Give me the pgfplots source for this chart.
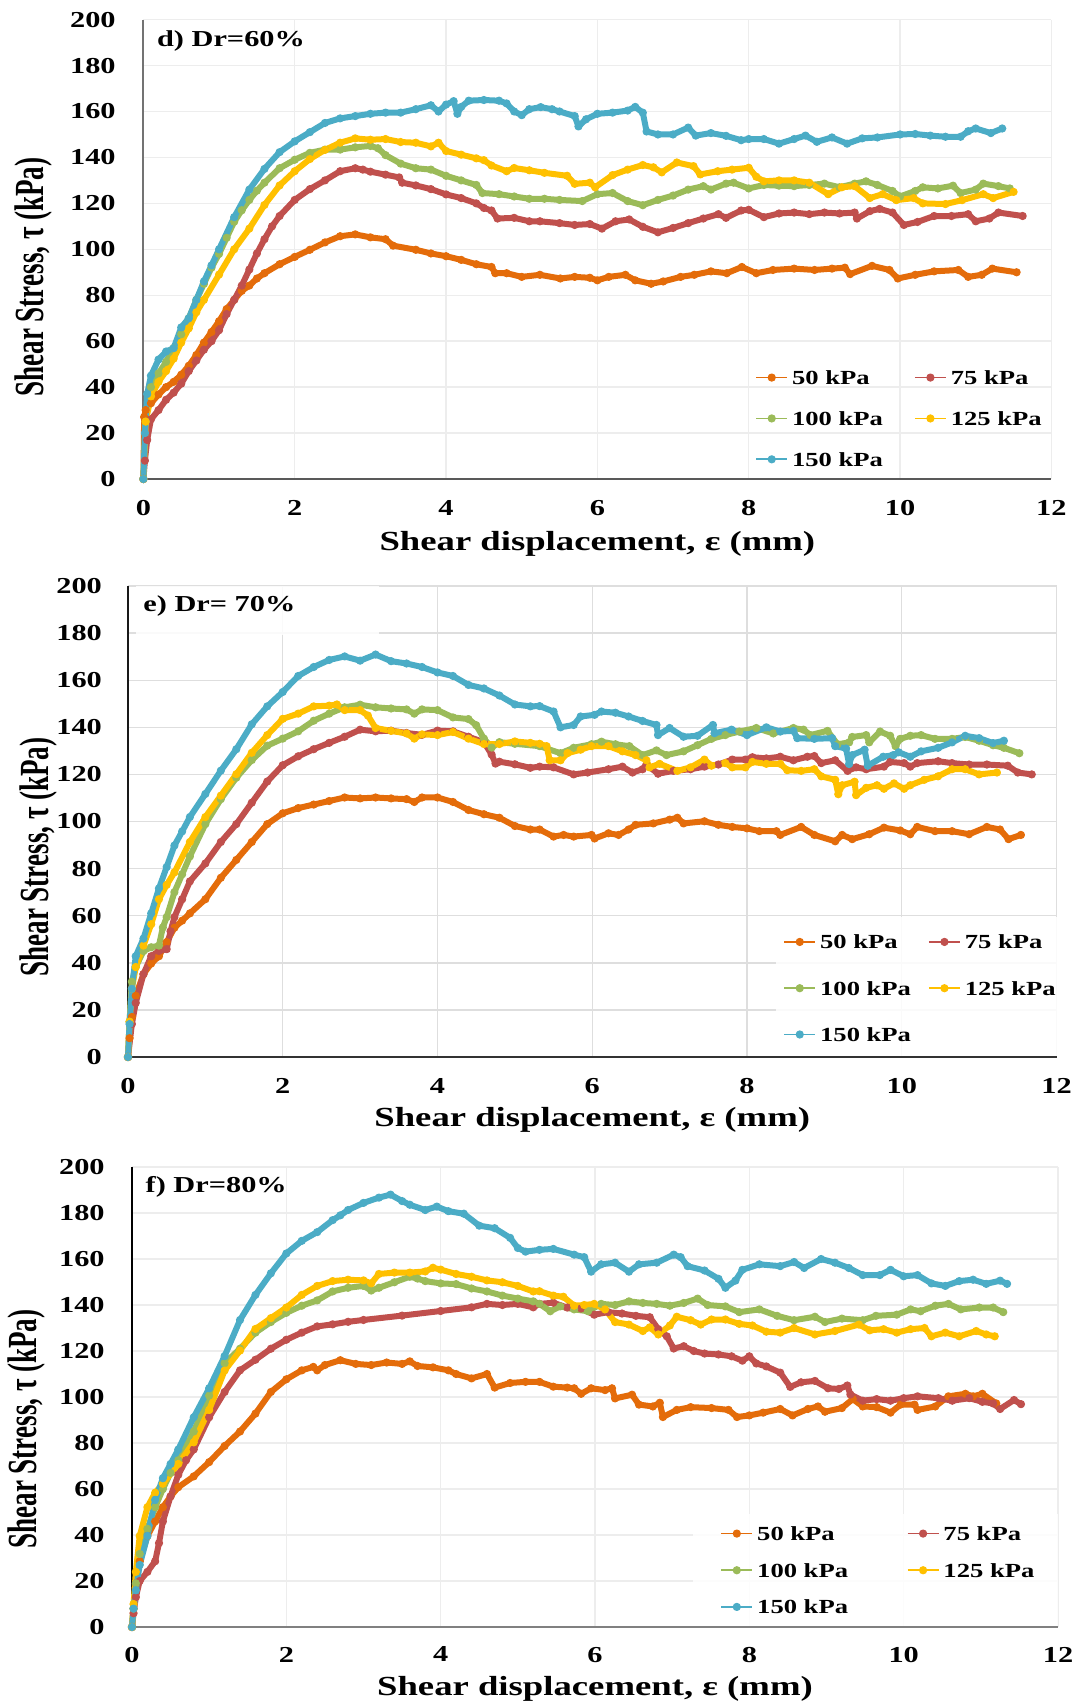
\documentclass[border=0pt]{standalone}
\usepackage{fontspec}
\setmainfont{Liberation Serif}[FakeStretch=1.33]
\newfontfamily\ylabfont{Liberation Serif}[FakeStretch=0.654]
\usepackage{pgfplots}
\pgfplotsset{compat=1.18}
\definecolor{c50}{RGB}{228,108,10}
\definecolor{c75}{RGB}{192,80,77}
\definecolor{c100}{RGB}{155,187,89}
\definecolor{c125}{RGB}{255,192,0}
\definecolor{c150}{RGB}{75,172,198}
\pgfplotsset{
 common/.style={
  scale only axis, anchor=south west,
  xmin=0, xmax=12, ymin=0, ymax=200,
  xtick={0,2,...,12}, ytick={0,20,...,200},
  axis lines=left, axis line style={-},
  grid=major,
  major tick length=0pt, tick style={draw=none},
  /pgf/number format/assume math mode=true,
  ticklabel style={font=\fontsize{11.4}{12}\selectfont\bfseries},
  xticklabel style={anchor=north, inner sep=0pt},
  yticklabel style={anchor=east, inner sep=0pt},
  xlabel style={at={(rel axis cs:0.5,0)}, anchor=north, inner sep=0pt, font=\fontsize{13.8}{15}\selectfont\bfseries},
  xlabel={Shear displacement, ε (mm)},
  clip=false,
  legend columns=2,
  legend cell align=left,
  legend style={draw=none, fill=none, inner sep=0pt, anchor=north west,
    nodes={inner sep=0pt, text depth=0pt},
    font=\fontsize{10}{12}\selectfont\bfseries,
    /tikz/every odd column/.append style={column sep=2pt}},
  legend image code/.code={\draw[mark repeat=2, mark phase=2, ##1, line width=0.9pt, mark size=1.8pt] plot coordinates {(0pt,0pt) (7.75pt,0pt) (15.5pt,0pt)};},
 },
 curve/.style={line width=3pt, line join=round, mark=*, mark size=1.8pt, mark options={solid, line width=0.5pt}},
}
\begin{document}
\begin{tikzpicture}
\path[use as bounding box] (0,0) rectangle (539pt,-852pt);
% ---------------- d) Dr=60% ----------------
\begin{axis}[common, at={(71.7pt,-239.5pt)}, width=454pt, height=229.7pt,
  grid style={draw=black!7, line width=0.7pt},
  x axis line style={draw=black!65, line width=1pt},
  y axis line style={draw=black!55, line width=1pt},
  xticklabel style={yshift=-10.5pt}, yticklabel style={xshift=-13.7pt},
  xlabel style={yshift=-26pt},
  legend style={at={(rel axis cs:0.6735,0.2368)}, row sep=13.5pt,
    /tikz/every even column/.append style={column sep=15.5pt}}]
\addplot[curve, color=c50] coordinates {(0,0) (0.01,27) (0.03,30) (0.1,33) (0.2,36.8) (0.3,40) (0.4,42.3) (0.5,45.4) (0.6,49.3) (0.7,54) (0.8,59.4) (0.9,64) (1.0,68.7) (1.1,74) (1.2,78) (1.3,81.9) (1.4,84.2) (1.5,87.3) (1.6,89.6) (1.8,93.5) (2.0,96.7) (2.2,99.8) (2.4,103) (2.6,105.7) (2.8,106.5) (3.0,105.2) (3.2,104.4) (3.3,101.6) (3.6,99.8) (3.8,98.2) (4.0,97) (4.2,95.4) (4.4,93.5) (4.6,92.3) (4.65,89.6) (4.8,89.6) (5.0,88) (5.24,88.9) (5.51,87.3) (5.7,88) (5.9,87.6) (6.0,86.5) (6.15,88) (6.37,88.9) (6.5,86.5) (6.71,85) (6.87,86) (7.1,88) (7.28,88.9) (7.5,90.4) (7.71,89.6) (7.91,92.3) (8.1,89.6) (8.32,91) (8.6,91.6) (8.87,91) (9.1,91.6) (9.27,92) (9.34,89.2) (9.63,92.8) (9.86,91) (9.97,87.3) (10.2,88.9) (10.45,90.4) (10.77,91) (10.9,88) (11.08,88.9) (11.22,91.6) (11.54,90)};
\addlegendentry{50 kPa}
\addplot[curve, color=c75] coordinates {(0,0) (0.02,8) (0.05,17) (0.1,26) (0.2,30) (0.3,34.5) (0.4,37.6) (0.5,41.5) (0.6,47) (0.7,51.6) (0.8,56.3) (0.9,60) (1.0,64.8) (1.1,71.8) (1.2,78) (1.3,84.2) (1.4,91.2) (1.5,98.2) (1.6,104.4) (1.7,110) (1.8,114.5) (2.0,121.5) (2.2,126.2) (2.4,130) (2.6,134) (2.8,135.3) (2.9,134.7) (3.0,133.8) (3.2,132.5) (3.38,131.3) (3.42,129) (3.6,127.8) (3.8,126.2) (4.0,123.9) (4.2,122.3) (4.4,120) (4.5,118) (4.6,116.9) (4.68,113.4) (4.9,113.7) (5.1,112.2) (5.24,112.2) (5.5,111.4) (5.7,110.6) (5.9,111) (6.06,109) (6.24,112.2) (6.42,113) (6.6,109.8) (6.8,107.4) (7.0,109.3) (7.2,111.4) (7.4,113.4) (7.6,115.3) (7.7,113.7) (7.9,116.9) (8.0,117.2) (8.2,114) (8.4,115.6) (8.6,116) (8.8,115.3) (9.0,116) (9.2,115.6) (9.4,116) (9.43,113.4) (9.6,116.6) (9.73,117.6) (9.9,116) (10.05,110.6) (10.23,111.9) (10.45,114.5) (10.68,114.5) (10.9,115.3) (11.0,112.2) (11.18,113.4) (11.3,116) (11.62,114.5)};
\addlegendentry{75 kPa}
\addplot[curve, color=c100] coordinates {(0,0) (0.03,25) (0.1,40) (0.2,46) (0.3,51) (0.4,57) (0.5,63) (0.6,70) (0.7,78) (0.8,85) (0.9,92) (1.0,98) (1.1,105) (1.2,112) (1.3,117) (1.4,121.5) (1.5,125.5) (1.6,129) (1.8,135.3) (2.0,139) (2.2,142) (2.4,143.4) (2.6,143.4) (2.8,144.4) (3.0,145) (3.1,144) (3.2,141) (3.4,137.3) (3.6,135.3) (3.8,134.7) (4.0,132) (4.2,130) (4.4,128) (4.48,124.5) (4.7,124) (4.9,123) (5.1,122) (5.3,122) (5.5,121.5) (5.8,121) (6.0,124) (6.2,124.5) (6.4,121) (6.6,119.2) (6.8,121.5) (7.0,123.4) (7.2,126) (7.4,127.5) (7.5,126) (7.7,128.6) (7.8,129) (8.0,126.5) (8.2,128) (8.4,127.7) (8.6,127.5) (8.8,128) (9.0,128.6) (9.2,127) (9.4,128.6) (9.55,129.6) (9.7,128) (9.9,125.4) (10.0,123) (10.2,125.4) (10.3,127) (10.5,126.5) (10.7,127.7) (10.8,124.5) (11.0,126) (11.1,128.6) (11.3,127.5) (11.45,126.5)};
\addlegendentry{100 kPa}
\addplot[curve, color=c125] coordinates {(0,0) (0.03,25) (0.1,36) (0.2,42.3) (0.3,47) (0.4,52.4) (0.5,59.4) (0.6,65.6) (0.7,72.6) (0.8,78) (1.0,89) (1.2,100) (1.4,109) (1.6,119.3) (1.8,127.8) (2.0,134) (2.2,139.3) (2.4,143.3) (2.6,146.4) (2.8,148.3) (3.0,147.7) (3.2,148) (3.4,146.7) (3.6,146.4) (3.8,144.8) (3.9,146.4) (4.0,142.8) (4.2,141.2) (4.4,139.6) (4.5,138.8) (4.6,136.5) (4.8,134) (4.9,135.4) (5.1,134.4) (5.3,133.3) (5.6,132) (5.7,128.5) (5.9,129) (5.97,127) (6.2,132.3) (6.4,134.7) (6.6,136.7) (6.74,135.7) (6.85,133.5) (7.05,137.8) (7.27,136.2) (7.36,132.6) (7.59,134) (7.78,134.7) (8.0,135.5) (8.1,131.6) (8.2,129.6) (8.4,130) (8.6,130) (8.8,129) (9.05,124) (9.23,127) (9.4,127.5) (9.6,122.3) (9.77,124) (9.95,121.4) (10.18,122.3) (10.3,120) (10.6,119.7) (10.82,121.4) (11.1,124) (11.23,122.3) (11.5,125)};
\addlegendentry{125 kPa}
\addplot[curve, color=c150] coordinates {(0,0) (0.02,20) (0.05,37) (0.1,45) (0.2,52) (0.3,55.5) (0.4,57) (0.5,66) (0.6,70) (0.7,78) (0.8,86) (0.9,93) (1.0,100) (1.2,114) (1.4,126) (1.6,135) (1.8,142.3) (2.0,147) (2.2,151) (2.4,155) (2.6,157) (2.8,158) (3.0,159) (3.2,159.5) (3.4,159.5) (3.6,161) (3.8,162.7) (3.9,160) (4.0,163) (4.1,164.5) (4.15,159) (4.2,162) (4.3,164.7) (4.5,165) (4.7,164.7) (4.8,163.5) (4.9,160) (5.0,158.4) (5.1,161) (5.25,161.9) (5.4,161) (5.5,160) (5.7,158) (5.75,153.5) (5.85,156.6) (6.0,159) (6.2,159.5) (6.4,160.4) (6.5,162) (6.6,159.5) (6.65,151.3) (6.8,150) (7.0,150) (7.2,153) (7.3,149.5) (7.5,150.6) (7.7,149.4) (7.9,147.5) (8.0,148) (8.2,148) (8.4,146) (8.6,148) (8.75,149.5) (8.9,146.8) (9.1,148.7) (9.3,146) (9.5,148.3) (9.7,148.7) (10.0,150) (10.2,150.2) (10.4,149.5) (10.6,149) (10.8,149) (10.9,151.4) (11.0,152.6) (11.2,150.6) (11.35,152.6)};
\addlegendentry{150 kPa}
\node[anchor=west, inner sep=0pt, xshift=6.65pt, yshift=-10.5pt, font=\fontsize{11.4}{12}\selectfont\bfseries] at (rel axis cs:0,1) {d) Dr=60\%};
\end{axis}
% ---------------- e) Dr=70% ----------------
\begin{axis}[common, at={(64pt,-528.5pt)}, width=464.25pt, height=235.5pt,
  grid style={draw=black!13, line width=0.7pt},
  x axis line style={draw=black!80, line width=1pt},
  y axis line style={draw=black!90, line width=1pt},
  xticklabel style={yshift=-10.5pt}, yticklabel style={xshift=-12.85pt},
  xlabel style={yshift=-25pt},
  legend style={at={(rel axis cs:0.7054,0.2599)}, row sep=16.2pt,
    /tikz/every even column/.append style={column sep=8.5pt}}]
\fill[white, opacity=0.85] (axis cs:8.37,0.6) rectangle (axis cs:12,59.4);
\fill[white, opacity=0.85] (axis cs:0.1,200) rectangle (axis cs:3.25,179);
\addplot[curve, color=c50] coordinates {(0,0) (0.02,8) (0.05,17) (0.1,26) (0.2,35.2) (0.3,39.7) (0.4,42.8) (0.5,48.8) (0.6,54.9) (0.7,57.9) (0.8,61) (1.0,67) (1.2,76.1) (1.4,83.7) (1.6,91.3) (1.8,98.9) (2.0,103.5) (2.2,105.7) (2.4,107.2) (2.6,108.7) (2.8,110.2) (3.0,109.8) (3.2,110.2) (3.4,109.8) (3.6,109.5) (3.7,108.3) (3.8,110.2) (4.0,110.2) (4.2,108.3) (4.4,104.9) (4.6,103.1) (4.8,101.6) (5.0,98.1) (5.2,96.6) (5.32,96.6) (5.5,93.6) (5.63,94.3) (5.76,93.6) (5.99,94.3) (6.03,92.8) (6.21,95) (6.34,94.3) (6.47,96.6) (6.56,98.6) (6.79,99.2) (7.0,100.8) (7.1,101.6) (7.18,99.2) (7.45,100.1) (7.63,98.6) (7.81,97.7) (8.0,97.1) (8.16,95.9) (8.38,95.9) (8.43,94.3) (8.7,97.7) (8.87,94.3) (9.14,91.6) (9.23,94.3) (9.36,92.5) (9.58,94.6) (9.77,97.4) (9.98,96.2) (10.11,94.6) (10.2,97.7) (10.43,95.9) (10.65,95.9) (10.87,94.6) (11.1,97.7) (11.27,96.6) (11.38,92.5) (11.54,94.3)};
\addlegendentry{50 kPa}
\addplot[curve, color=c75] coordinates {(0,0) (0.05,14) (0.1,23) (0.2,35.2) (0.3,42.8) (0.4,45) (0.5,45.8) (0.55,53.4) (0.6,59.4) (0.7,67) (0.8,74.6) (1.0,82.2) (1.2,91.3) (1.4,98.9) (1.6,108) (1.8,117) (2.0,123.9) (2.2,127.7) (2.4,130.7) (2.6,133.4) (2.8,136) (3.0,139) (3.2,138.3) (3.4,138.6) (3.6,137.6) (3.8,136.8) (4.0,138.6) (4.2,138.3) (4.4,136) (4.6,133.7) (4.7,128.4) (4.75,124.6) (4.8,125.4) (5.0,124.3) (5.2,122.8) (5.32,123.3) (5.5,123) (5.76,120) (5.94,120.8) (6.21,122.2) (6.39,123.3) (6.52,120.8) (6.65,122.2) (6.7,124.2) (6.85,120.3) (7.05,121.5) (7.27,122.2) (7.45,123.3) (7.63,124.2) (7.81,126.3) (7.98,126.3) (8.07,127.3) (8.25,126.8) (8.43,127.5) (8.6,126) (8.78,127.5) (8.87,127.8) (8.96,124.8) (9.14,126) (9.3,121.5) (9.41,123) (9.54,122.2) (9.77,123.3) (9.85,125.3) (10.03,124.8) (10.11,123.3) (10.2,124.8) (10.47,125.6) (10.65,124.8) (10.87,124.2) (11.1,124.2) (11.37,123.7) (11.5,120.8) (11.68,120)};
\addlegendentry{75 kPa}
\addplot[curve, color=c100] coordinates {(0,0) (0.02,15) (0.05,32) (0.1,38.2) (0.2,45) (0.3,46.6) (0.4,47.3) (0.45,55) (0.5,59.4) (0.6,70) (0.7,77.6) (0.8,85.2) (1.0,98.9) (1.2,109.5) (1.4,118.6) (1.6,126.1) (1.8,132.2) (2.0,135.2) (2.2,138.3) (2.4,142.8) (2.6,145.8) (2.8,148.5) (3.0,149.6) (3.2,148.5) (3.4,148) (3.6,147.6) (3.7,145.8) (3.8,147.6) (4.0,147.3) (4.2,144.2) (4.4,143.5) (4.5,140.9) (4.6,135.2) (4.7,131.4) (4.8,133.7) (5.0,133) (5.32,132) (5.59,129) (5.76,131.3) (5.99,132.8) (6.12,133.9) (6.3,132.8) (6.48,132) (6.65,128.2) (6.83,130.2) (6.96,128.2) (7.18,129.8) (7.36,132.4) (7.54,135.1) (7.72,136.7) (7.9,138.2) (8.12,139.7) (8.34,137.4) (8.6,139.7) (8.73,139) (8.82,136.7) (9.04,138.5) (9.17,132.8) (9.32,133.6) (9.36,135.9) (9.54,136.7) (9.58,133.6) (9.72,138.2) (9.85,136.4) (9.92,132) (9.98,135.1) (10.11,136.4) (10.25,136.7) (10.43,135.1) (10.65,135.1) (10.82,135.9) (11.0,134.3) (11.18,132.4) (11.32,131.3) (11.52,129)};
\addlegendentry{100 kPa}
\addplot[curve, color=c125] coordinates {(0,0) (0.02,15) (0.05,29) (0.1,38.2) (0.2,47.3) (0.3,56.4) (0.4,67) (0.5,73.1) (0.6,78.4) (0.8,91.3) (1.0,101.9) (1.2,111) (1.4,120.1) (1.6,129.2) (1.8,136.7) (2.0,143.6) (2.2,145.8) (2.4,148.9) (2.6,149.2) (2.7,149.7) (2.8,147.3) (3.0,147.3) (3.1,145) (3.2,139.7) (3.4,138.5) (3.6,137.4) (3.7,135.2) (3.8,137) (4.0,136.7) (4.2,138) (4.4,135.2) (4.6,132.9) (4.8,132.9) (5.0,134) (5.2,133.4) (5.32,133) (5.41,132) (5.45,126) (5.59,126) (5.68,129) (5.85,130.5) (5.99,132) (6.21,132) (6.39,129.8) (6.56,128.2) (6.7,126) (6.74,123) (6.87,124.5) (7.1,121.5) (7.27,123) (7.45,126.3) (7.54,123.7) (7.72,124.8) (7.81,123) (7.98,123) (8.07,125.3) (8.25,124.5) (8.43,124.5) (8.52,121.8) (8.7,121.5) (8.87,122.2) (8.96,119.2) (9.14,117.7) (9.18,111.6) (9.23,115.4) (9.39,116.9) (9.41,111.2) (9.54,114.3) (9.68,115.4) (9.77,113.9) (9.9,116.2) (10.03,113.9) (10.11,115.4) (10.29,117.7) (10.47,119.2) (10.65,122.2) (10.82,122.2) (11.0,120) (11.23,120.8)};
\addlegendentry{125 kPa}
\addplot[curve, color=c150] coordinates {(0,0) (0.02,14) (0.05,29) (0.1,42.8) (0.2,50.3) (0.3,61) (0.4,71.6) (0.5,80.7) (0.6,89.8) (0.7,95.8) (0.8,101.9) (1.0,111.7) (1.2,121.6) (1.4,130.7) (1.6,141.3) (1.8,148.9) (2.0,155) (2.2,161.8) (2.4,165.6) (2.6,168.6) (2.8,170.1) (3.0,168.3) (3.2,170.9) (3.4,168.1) (3.6,167.1) (3.8,165.6) (4.0,163.3) (4.2,161.8) (4.4,158) (4.6,156.5) (4.8,153.5) (5.0,149.7) (5.2,148.9) (5.32,149) (5.5,146.7) (5.59,140) (5.76,141) (5.85,144.6) (6.03,145.3) (6.12,146.7) (6.3,146.2) (6.47,144.6) (6.65,142.7) (6.83,141) (6.85,136.7) (7.0,139.7) (7.18,136) (7.36,136.4) (7.56,141) (7.58,137.5) (7.8,139) (8.0,136.7) (8.25,140) (8.43,138.2) (8.6,138.5) (8.65,135.4) (8.87,135.1) (9.1,135.4) (9.14,132) (9.28,131) (9.32,124.4) (9.36,128.2) (9.52,130.5) (9.56,123.7) (9.76,127.5) (9.89,128.2) (9.96,129.4) (10.11,127.5) (10.25,129.8) (10.47,131.3) (10.65,133.6) (10.82,136.4) (11.0,135.4) (11.18,133.3) (11.32,134.3)};
\addlegendentry{150 kPa}
\node[anchor=west, inner sep=0pt, xshift=7.5pt, yshift=-10pt, font=\fontsize{11.4}{12}\selectfont\bfseries] at (rel axis cs:0,1) {e) Dr= 70\%};
\end{axis}
% ---------------- f) Dr=80% ----------------
\begin{axis}[common, at={(66pt,-813.5pt)}, width=463pt, height=230pt,
  grid style={draw=black!7, line width=0.7pt},
  x axis line style={draw=black!50, line width=1.2pt},
  y axis line style={draw=black, line width=1pt},
  xticklabel style={yshift=-9.75pt}, yticklabel style={xshift=-13.5pt},
  xlabel style={yshift=-24.5pt},
  legend style={at={(rel axis cs:0.635,0.2191)}, row sep=11.4pt,
    /tikz/every even column/.append style={column sep=29.3pt}}]
\fill[white, opacity=0.85] (axis cs:7.27,0.6) rectangle (axis cs:12,49);
\addplot[curve, color=c50] coordinates {(0,0) (0.02,8) (0.05,19) (0.1,28.6) (0.2,39.6) (0.3,45.9) (0.4,52.1) (0.5,56.8) (0.6,60.8) (0.8,65.5) (1.0,71.7) (1.2,78.7) (1.4,85) (1.6,92.8) (1.8,102.2) (2.0,107.7) (2.2,111.6) (2.35,113.1) (2.4,111.6) (2.5,113.9) (2.7,116) (2.9,114.4) (3.1,113.9) (3.3,115) (3.5,114.4) (3.6,115.5) (3.7,113.5) (3.9,112.9) (4.1,111.6) (4.2,110) (4.4,108.1) (4.6,110) (4.7,104.1) (4.9,106.1) (5.1,106.6) (5.28,106.6) (5.46,104.5) (5.64,104.1) (5.73,103.8) (5.82,101.4) (5.95,103.8) (6.13,103) (6.22,103.8) (6.26,99.4) (6.48,101) (6.57,96.7) (6.75,95.9) (6.84,97.5) (6.88,91.3) (7.06,94.4) (7.24,95.6) (7.51,95.2) (7.73,94.4) (7.84,91.3) (8.0,92) (8.18,93.2) (8.4,94.8) (8.56,92) (8.76,94.8) (8.89,95.9) (8.98,93.6) (9.2,95.2) (9.34,99.1) (9.47,95.9) (9.65,95.6) (9.83,93.2) (9.96,96.7) (10.14,96.7) (10.18,94.4) (10.41,95.9) (10.58,100.3) (10.8,101.4) (10.9,100.3) (11.02,101.4) (11.2,97.2)};
\addlegendentry{50 kPa}
\addplot[curve, color=c75] coordinates {(0,0) (0.02,6) (0.05,13) (0.1,20) (0.2,24) (0.3,28.6) (0.35,36.5) (0.4,45.9) (0.5,56.8) (0.6,66.2) (0.7,72.5) (0.8,77.2) (1.0,91.2) (1.2,102.2) (1.4,111.6) (1.6,116.2) (1.8,121) (2.0,124.9) (2.2,128) (2.4,130.7) (2.6,131.6) (2.8,132.7) (3.0,133.5) (3.5,135.4) (4.0,137.4) (4.4,139) (4.6,140.5) (4.8,140) (5.0,140.5) (5.2,139) (5.28,140.5) (5.46,141) (5.64,138.9) (5.82,138.5) (5.99,135.8) (6.17,136.9) (6.35,136.3) (6.53,135.3) (6.71,134.7) (6.82,129.5) (6.93,126.4) (7.02,121.1) (7.15,122.1) (7.28,120) (7.42,118.9) (7.6,118.5) (7.77,117.7) (7.91,115.8) (8.0,117.7) (8.09,114.6) (8.22,113.3) (8.4,110.6) (8.53,104.4) (8.67,106.4) (8.85,107) (9.02,103.8) (9.16,103.5) (9.27,105) (9.31,101.1) (9.47,98.4) (9.65,99.1) (9.83,98.4) (10.0,99.5) (10.18,100.3) (10.45,99.5) (10.63,98.4) (10.85,99.5) (11.02,97.9) (11.16,97.2) (11.25,94.8) (11.43,98.7) (11.52,96.9)};
\addlegendentry{75 kPa}
\addplot[curve, color=c100] coordinates {(0,0) (0.02,8) (0.05,19) (0.1,31.8) (0.2,42.7) (0.3,52.1) (0.4,60) (0.5,67) (0.6,72.5) (0.8,85) (1.0,100.6) (1.2,114.7) (1.4,121) (1.6,128) (1.8,132.6) (2.0,136.6) (2.2,139.7) (2.4,142) (2.6,145.9) (2.8,147.5) (3.0,148.3) (3.1,146.3) (3.2,147.5) (3.4,149.9) (3.6,152.3) (3.7,151.5) (3.8,150.4) (4.0,149.4) (4.2,149.1) (4.4,147.2) (4.6,145.9) (4.8,144.1) (5.0,142.8) (5.2,141.6) (5.28,140.5) (5.42,137.3) (5.55,139.4) (5.73,138.1) (5.91,137.3) (6.08,140.5) (6.26,140) (6.44,141.6) (6.62,140.9) (6.8,140.5) (6.97,139.7) (7.15,140.9) (7.33,142.8) (7.46,140) (7.69,139.4) (7.87,136.9) (8.13,138.1) (8.36,135.3) (8.58,133.4) (8.85,134.9) (8.98,132.6) (9.2,134.1) (9.47,133.4) (9.64,135.3) (9.91,135.8) (10.09,138.1) (10.22,137.3) (10.41,139.7) (10.58,140.5) (10.74,138.1) (10.98,138.9) (11.16,138.9) (11.29,136.9)};
\addlegendentry{100 kPa}
\addplot[curve, color=c125] coordinates {(0,0) (0.02,10) (0.05,24) (0.1,39.6) (0.2,52.1) (0.3,58.4) (0.4,62.3) (0.6,70.9) (0.8,80.3) (1.0,94.4) (1.2,111.5) (1.4,120.2) (1.6,129.6) (1.8,134.3) (2.0,138.9) (2.2,144.4) (2.4,148.3) (2.6,150.4) (2.8,151) (3.0,150.7) (3.1,149.4) (3.2,153.5) (3.4,154.1) (3.6,154.1) (3.8,154.6) (3.9,156.2) (4.0,155.4) (4.2,153.5) (4.4,152.3) (4.6,150.7) (4.8,149.9) (5.0,148.3) (5.2,145.9) (5.28,146) (5.46,144.1) (5.59,143.6) (5.73,139.7) (5.86,140) (5.99,140.5) (6.13,138.1) (6.26,132.6) (6.44,131.5) (6.62,128.7) (6.71,130.3) (6.82,127.2) (6.97,131.1) (7.06,134.9) (7.24,133.4) (7.37,131.5) (7.51,133.7) (7.69,133.7) (7.87,131.8) (8.04,131.1) (8.22,128.4) (8.4,128) (8.58,130) (8.85,127.2) (9.11,128.7) (9.42,131.5) (9.56,129) (9.74,129.5) (9.91,128) (10.09,129.5) (10.27,130) (10.36,126.4) (10.54,128) (10.72,126.4) (10.94,128.7) (11.07,127.2) (11.18,126.4)};
\addlegendentry{125 kPa}
\addplot[curve, color=c150] coordinates {(0,0) (0.02,8) (0.05,16) (0.1,27) (0.2,39.6) (0.3,55.3) (0.4,64.7) (0.5,70.9) (0.6,77.2) (0.8,91.2) (1.0,103.8) (1.2,117.8) (1.4,133.5) (1.6,144.4) (1.8,153.8) (2.0,162.4) (2.2,167.9) (2.4,171.7) (2.6,176.9) (2.7,179) (2.8,181.3) (3.0,184.4) (3.2,186.7) (3.35,188) (3.5,185.2) (3.6,183.6) (3.8,181.3) (3.95,182.8) (4.1,180.8) (4.3,179.7) (4.5,174.5) (4.7,173.4) (4.9,169.2) (5.0,164.8) (5.1,163.2) (5.28,164) (5.46,164.4) (5.73,161.9) (5.86,160.8) (5.95,154.5) (6.08,157.7) (6.26,158.4) (6.44,154.5) (6.57,157.7) (6.8,158.4) (7.02,161.9) (7.11,160.8) (7.2,156.9) (7.42,155) (7.6,151.4) (7.69,147.5) (7.82,150.6) (7.91,155.3) (8.13,157.7) (8.4,156.9) (8.58,158.7) (8.71,156.1) (8.93,160) (9.11,158.4) (9.29,156.1) (9.47,153) (9.69,153) (9.83,155.3) (10.0,152.5) (10.18,153) (10.36,149.4) (10.54,148.3) (10.72,150.4) (10.9,151) (11.07,149.2) (11.25,150.6) (11.34,149.2)};
\addlegendentry{150 kPa}
\node[anchor=west, inner sep=0pt, xshift=6.65pt, yshift=-10pt, font=\fontsize{11.4}{12}\selectfont\bfseries] at (rel axis cs:0,1) {f) Dr=80\%};
\end{axis}
% y labels
\node[rotate=90, anchor=base, inner sep=0pt, font=\ylabfont\fontsize{20.7}{22}\selectfont\bfseries] at (21.5pt,-138.5pt) {Shear Stress, τ (kPa)};
\node[rotate=90, anchor=base, inner sep=0pt, font=\ylabfont\fontsize{20.7}{22}\selectfont\bfseries] at (24.1pt,-428.5pt) {Shear Stress, τ (kPa)};
\node[rotate=90, anchor=base, inner sep=0pt, font=\ylabfont\fontsize{20.7}{22}\selectfont\bfseries] at (18.1pt,-714.5pt) {Shear Stress, τ (kPa)};
\end{tikzpicture}
\end{document}
